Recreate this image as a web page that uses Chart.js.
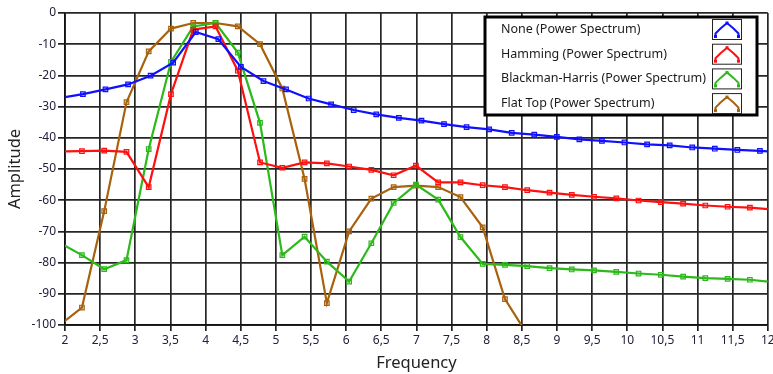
<!DOCTYPE html>
<html lang="en">
<head>
    <meta charset="UTF-8">
    <title>Power Spectrum Windows</title>
    <style>
        body {
            margin: 0;
            background: #fff;
        }
        #chart {
            display: block;
        }
    </style>
</head>
<body>
    <canvas id="chart" width="773" height="374"></canvas>

    <script src="https://cdn.jsdelivr.net/npm/chart.js"></script>
    <script>
        // frequency grid of the "None" trace
        const freqNone = [1.934, 2.255, 2.576, 2.897, 3.218, 3.539, 3.861, 4.182, 4.503, 4.824,
            5.145, 5.466, 5.787, 6.108, 6.429, 6.750, 7.072, 7.393, 7.714, 8.035, 8.356,
            8.677, 8.998, 9.319, 9.640, 9.961, 10.283, 10.604, 10.925, 11.246, 11.567, 11.888, 12.209];

        // frequency grid of the windowed traces
        const freqWin = [1.924, 2.241, 2.558, 2.875, 3.191, 3.508, 3.825, 4.142, 4.459, 4.775,
            5.092, 5.409, 5.726, 6.043, 6.359, 6.676, 6.993, 7.310, 7.627, 7.943, 8.260,
            8.577, 8.894, 9.211, 9.527, 9.844, 10.161, 10.478, 10.795, 11.111, 11.428, 11.745, 12.062];

        const seriesNames = ['None (Power Spectrum)', 'Hamming (Power Spectrum)',
            'Blackman-Harris (Power Spectrum)', 'Flat Top (Power Spectrum)'];

        const ampNone = [-27.2, -26.0, -24.5, -22.9, -20.1, -15.9, -6.1, -8.4, -17.3, -21.8,
            -24.5, -27.4, -29.3, -31.1, -32.5, -33.6, -34.5, -35.6, -36.6, -37.3, -38.4,
            -39.0, -39.7, -40.5, -41.0, -41.5, -42.1, -42.4, -43.1, -43.5, -43.9, -44.2, -44.6];

        const ampHamming = [-44.4, -44.3, -44.1, -44.5, -55.8, -26.0, -5.3, -4.3, -18.5, -47.9,
            -49.6, -47.9, -48.2, -49.2, -50.3, -52.0, -48.9, -54.3, -54.3, -55.2, -55.8,
            -56.8, -57.6, -58.3, -58.9, -59.4, -60.1, -60.6, -61.1, -61.7, -62.1, -62.4, -63.0];

        const ampBlackman = [-73.7, -77.6, -82.1, -79.2, -43.6, -15.7, -4.3, -3.2, -12.7, -35.2,
            -77.6, -71.7, -79.7, -86.1, -73.8, -60.9, -55.0, -59.8, -71.8, -80.4, -80.7,
            -81.1, -81.8, -82.2, -82.5, -83.0, -83.5, -83.9, -84.5, -85.0, -85.2, -85.5, -86.2];

        // flat top runs off the bottom of the graph after 8.5
        const ampFlatTop = [-100.0, -94.4, -63.5, -28.6, -12.3, -5.0, -3.2, -3.2, -4.3, -10.0,
            -24.2, -53.2, -93.0, -70.0, -59.5, -55.8, -55.3, -55.8, -59.0, -68.7, -91.7, -103.0];

        const colors = ['#1010ff', '#ff1010', '#2cb91a', '#a8620e'];

        function toPoints(xs, ys) {
            return ys.map((y, i) => ({ x: xs[i], y: y }));
        }

        function makeSet(idx, xs, ys) {
            return {
                label: seriesNames[idx],
                data: toPoints(xs, ys),
                borderColor: colors[idx],
                backgroundColor: colors[idx] + '55',
                borderWidth: 2.2,
                pointStyle: 'rect',
                pointRadius: 3.2,
                pointBorderWidth: 1.2,
                pointBorderColor: colors[idx],
                pointBackgroundColor: colors[idx] + '30',
                tension: 0
            };
        }

        // legend box drawn inside the plot, icon on the right like the LabVIEW one
        const boxLegend = {
            id: 'boxLegend',
            afterDraw(chart) {
                const ctx = chart.ctx;
                const x0 = 485, y0 = 17, w = 272, h = 98;
                ctx.save();
                ctx.fillStyle = '#fff';
                ctx.fillRect(x0, y0, w, h);
                ctx.lineWidth = 3;
                ctx.strokeStyle = '#000';
                ctx.strokeRect(x0, y0, w, h);

                ctx.font = '12.5px "Noto Sans"';
                ctx.textBaseline = 'middle';
                ctx.textAlign = 'left';
                chart.data.datasets.forEach((ds, i) => {
                    const cy = 29.5 + i * 24.7;
                    ctx.fillStyle = '#1a1a1a';
                    ctx.fillText(ds.label, 501, cy);

                    // icon frame
                    const bx = 712.5, by = cy - 10;
                    ctx.lineWidth = 1;
                    ctx.strokeStyle = '#222';
                    ctx.strokeRect(bx, by, 29, 20);

                    // little tent-shaped trace
                    ctx.strokeStyle = ds.borderColor;
                    ctx.lineWidth = 2;
                    ctx.beginPath();
                    ctx.moveTo(bx + 3, by + 17);
                    ctx.lineTo(bx + 3, by + 14);
                    ctx.lineTo(bx + 8, by + 9);
                    ctx.lineTo(bx + 14.5, by + 3.5);
                    ctx.lineTo(bx + 21, by + 9);
                    ctx.lineTo(bx + 26, by + 14);
                    ctx.lineTo(bx + 26, by + 17);
                    ctx.stroke();
                    ctx.fillStyle = ds.borderColor;
                    [[3, 17], [14.5, 3.5], [26, 17]].forEach(p => {
                        ctx.fillRect(bx + p[0] - 1.5, by + p[1] - 1.5, 3, 3);
                    });
                });
                ctx.restore();
            }
        };

        const gridColor = '#262626';

        window.onload = function() {
            const ctx = document.getElementById('chart').getContext('2d');
            new Chart(ctx, {
                type: 'line',
                data: {
                    datasets: [
                        makeSet(0, freqNone, ampNone),
                        makeSet(1, freqWin, ampHamming),
                        makeSet(2, freqWin, ampBlackman),
                        makeSet(3, freqWin, ampFlatTop)
                    ]
                },
                options: {
                    responsive: false,
                    animation: false,
                    layout: {
                        padding: { left: 0, right: 2, top: 13, bottom: 0 }
                    },
                    plugins: {
                        legend: { display: false },
                        tooltip: { enabled: false }
                    },
                    scales: {
                        x: {
                            type: 'linear',
                            min: 2,
                            max: 12,
                            ticks: {
                                stepSize: 0.5,
                                padding: 2,
                                color: '#20203a',
                                font: { family: 'Noto Sans', size: 12 },
                                maxRotation: 0,
                                autoSkip: false,
                                callback: v => String(v).replace('.', ',')
                            },
                            grid: {
                                color: gridColor,
                                lineWidth: 1.7,
                                tickLength: 6,
                                tickColor: '#222'
                            },
                            border: { color: '#111', width: 1.7 },
                            title: {
                                display: true,
                                text: 'Frequency',
                                color: '#222',
                                font: { family: 'Noto Sans', size: 16.5 },
                                padding: { top: 0, bottom: 1 }
                            },
                            afterFit(scale) {
                                scale.height = 49;
                                scale.paddingLeft = 0;
                                scale.paddingRight = 0;
                            }
                        },
                        y: {
                            min: -100,
                            max: 0,
                            ticks: {
                                stepSize: 10,
                                padding: 2,
                                color: '#20203a',
                                font: { family: 'Noto Sans', size: 12 }
                            },
                            grid: {
                                color: gridColor,
                                lineWidth: 1.7,
                                tickLength: 7,
                                tickColor: '#222'
                            },
                            border: { color: '#111', width: 1.7 },
                            title: {
                                display: true,
                                text: 'Amplitude',
                                color: '#222',
                                font: { family: 'Noto Sans', size: 16.5 },
                                padding: { top: 5, bottom: 0 }
                            },
                            afterFit(scale) {
                                scale.width = 65;
                                scale.paddingTop = 0;
                                scale.paddingBottom = 0;
                            }
                        }
                    }
                },
                plugins: [boxLegend]
            });
        };
    </script>
</body>
</html>
